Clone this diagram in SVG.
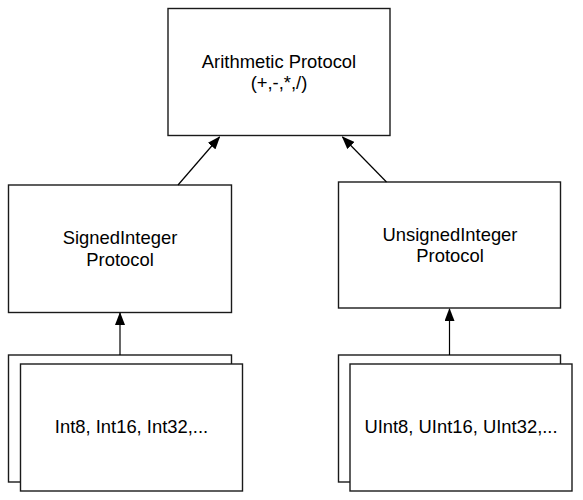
<svg xmlns="http://www.w3.org/2000/svg" width="583" height="500" viewBox="0 0 583 500">
<style>
.box{fill:#fff;stroke:#1a1a1a;stroke-width:1.4}
.lbl{font-family:"Liberation Sans",Arial,sans-serif;font-size:18.4px;fill:#000;text-anchor:middle}
.edge{stroke:#000;stroke-width:1.2;fill:none}
</style>
<defs>
<marker id="arr" markerWidth="13" markerHeight="10" refX="12" refY="5" orient="auto" markerUnits="userSpaceOnUse">
<path d="M0,0 L13,5 L0,10 Z" fill="#000"/>
</marker>
</defs>
<rect x="0" y="0" width="583" height="500" fill="#fff"/>
<g id="arith">
<rect class="box" x="168" y="8.5" width="222" height="127"/>
<text class="lbl" x="279" y="67.5">Arithmetic Protocol</text>
<text class="lbl" x="279" y="89">(+,-,*,/)</text>
</g>
<g id="signed">
<rect class="box" x="8.5" y="185" width="223" height="127.5"/>
<text class="lbl" x="120" y="244">SignedInteger</text>
<text class="lbl" x="120" y="265.5">Protocol</text>
</g>
<g id="unsigned">
<rect class="box" x="338.5" y="182" width="222" height="126"/>
<text class="lbl" x="450" y="240.5">UnsignedInteger</text>
<text class="lbl" x="450" y="262">Protocol</text>
</g>
<g id="ints">
<rect class="box" x="8.5" y="355" width="223" height="127"/>
<rect class="box" x="20.5" y="364" width="222" height="127"/>
<text class="lbl" x="131.5" y="433">Int8, Int16, Int32,...</text>
</g>
<g id="uints">
<rect class="box" x="338.5" y="355" width="222" height="127"/>
<rect class="box" x="350" y="364" width="222" height="127"/>
<text class="lbl" x="461" y="433">UInt8, UInt16, UInt32,...</text>
</g>
<g id="connectors">
<line class="edge" x1="178" y1="185" x2="219.5" y2="137" marker-end="url(#arr)"/>
<line class="edge" x1="386.5" y1="182" x2="342.5" y2="137" marker-end="url(#arr)"/>
<line class="edge" x1="120" y1="355" x2="120" y2="313" marker-end="url(#arr)"/>
<line class="edge" x1="449.5" y1="355" x2="449.5" y2="309" marker-end="url(#arr)"/>
</g>
</svg>
